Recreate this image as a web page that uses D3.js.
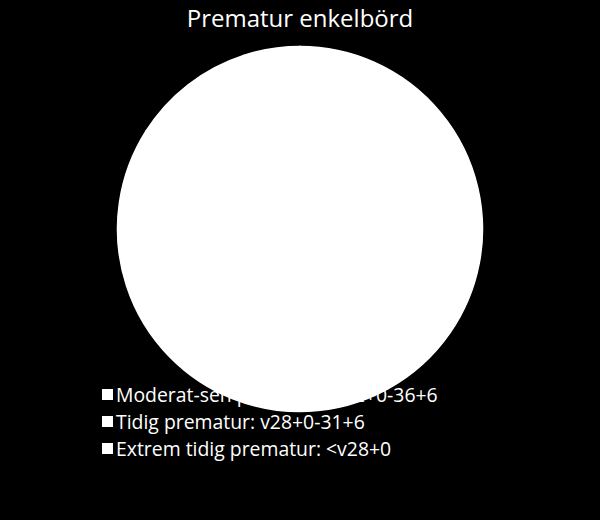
<!DOCTYPE html>
<html>
<head>
<meta charset="utf-8">
<script src="https://cdn.jsdelivr.net/npm/d3@7"></script>
<style>
  body { margin: 0; background: #000; }
</style>
</head>
<body>
<div id="chart"></div>
<script>
// Categories and shares (slices are all white in the original, values estimated)
const categories = [
  "Moderat-sen prematur: v32+0-36+6",
  "Tidig prematur: v28+0-31+6",
  "Extrem tidig prematur: <v28+0"
];
const shares = [84, 11, 5];
const title = "Prematur enkelbörd";

const width = 600;
const height = 520;
const radius = 182.5;
const cx = 300, cy = 229;

const svg = d3.select("#chart")
  .append("svg")
  .attr("width", width)
  .attr("height", height)
  .style("background", "#000");

// Title
svg.append("text")
  .attr("x", width / 2)
  .attr("y", 27)
  .attr("text-anchor", "middle")
  .attr("fill", "#fff")
  .style("font-family", "'Open Sans', sans-serif")
  .style("font-size", "24px")
  .text(title);

// Legend (drawn first, pie covers it like in the reference)
const legend = svg.append("g");
const rowY = d3.scalePoint()
  .domain(categories)
  .range([402, 456]);

const rows = legend.selectAll("g")
  .data(categories)
  .enter()
  .append("g")
  .attr("transform", d => `translate(0,${rowY(d)})`);

rows.append("rect")
  .attr("x", 102)
  .attr("y", -13)
  .attr("width", 11)
  .attr("height", 11)
  .attr("fill", "#fff");

rows.append("text")
  .attr("x", 116)
  .attr("y", 0)
  .attr("fill", "#fff")
  .style("font-family", "'Open Sans', sans-serif")
  .style("font-size", "19.4px")
  .text(d => d);

// Pie
const pie = d3.pie().sort(null).value(d => d);
const arc = d3.arc().innerRadius(0).outerRadius(radius);

const pieG = svg.append("g")
  .attr("transform", `translate(${cx},${cy})`);

// white base disc so slice seams don't show
pieG.append("path")
  .attr("d", arc({ startAngle: 0, endAngle: 2 * Math.PI }))
  .attr("fill", "#fff");

pieG.selectAll("path.slice")
  .data(pie(shares))
  .enter()
  .append("path")
  .attr("class", "slice")
  .attr("d", arc)
  .attr("fill", "#fff")
  .attr("stroke", "#fff")
  .attr("stroke-width", 1.5);
</script>
</body>
</html>
